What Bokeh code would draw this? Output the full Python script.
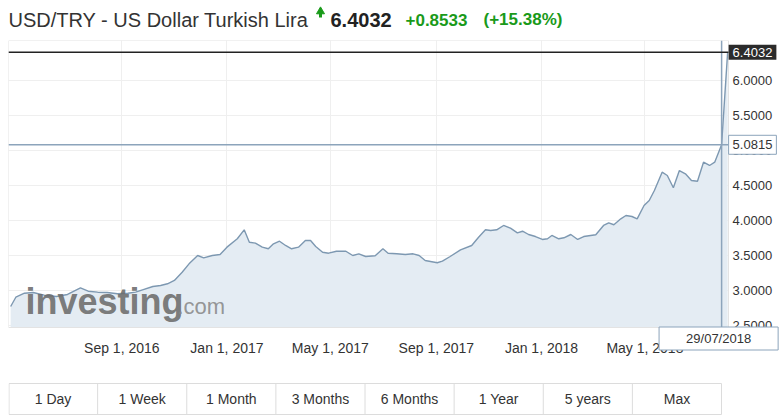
import pandas as pd
from bokeh.plotting import figure
from bokeh.models import Range1d, FixedTicker, Label, ColumnDataSource, NumeralTickFormatter
from bokeh.layouts import column
from bokeh.embed import file_html
from bokeh.resources import INLINE
from bokeh.core.properties import value

FONT = "Liberation Sans"

# ---------------- data ----------------
dates = ["2016-04-25", "2016-05-01", "2016-05-11", "2016-05-21", "2016-06-03", "2016-06-17",
         "2016-06-30", "2016-07-15", "2016-07-24", "2016-08-04", "2016-08-15", "2016-08-27",
         "2016-09-08", "2016-09-17", "2016-09-25", "2016-10-07", "2016-10-16", "2016-10-24",
         "2016-11-01", "2016-11-10", "2016-11-18", "2016-11-28", "2016-12-05", "2016-12-15",
         "2016-12-24", "2017-01-01", "2017-01-13", "2017-01-21", "2017-01-27", "2017-02-03",
         "2017-02-11", "2017-02-18", "2017-02-24", "2017-03-03", "2017-03-10", "2017-03-17",
         "2017-03-25", "2017-04-02", "2017-04-08", "2017-04-14", "2017-04-22", "2017-04-29",
         "2017-05-08", "2017-05-19", "2017-05-27", "2017-06-03", "2017-06-11", "2017-06-22",
         "2017-07-01", "2017-07-07", "2017-07-17", "2017-07-27", "2017-08-05", "2017-08-12",
         "2017-08-19", "2017-09-02", "2017-09-08", "2017-09-17", "2017-09-29", "2017-10-12",
         "2017-10-20", "2017-10-28", "2017-11-03", "2017-11-10", "2017-11-18", "2017-11-26",
         "2017-12-04", "2017-12-10", "2017-12-17", "2017-12-25", "2018-01-02", "2018-01-08",
         "2018-01-13", "2018-01-21", "2018-01-27", "2018-02-04", "2018-02-12", "2018-02-19",
         "2018-02-27", "2018-03-05", "2018-03-14", "2018-03-20", "2018-03-26", "2018-04-03",
         "2018-04-09", "2018-04-16", "2018-04-22", "2018-04-30", "2018-05-06", "2018-05-12",
         "2018-05-21", "2018-05-27", "2018-06-03", "2018-06-10", "2018-06-17", "2018-06-24",
         "2018-07-01", "2018-07-08", "2018-07-15", "2018-07-21", "2018-07-29", "2018-08-05"]
rates = [2.771, 2.904, 2.961, 2.971, 2.933, 2.914, 2.943, 3.039, 2.990, 2.976, 2.971, 2.953,
         2.961, 2.976, 3.010, 3.057, 3.071, 3.096, 3.143, 3.261, 3.381, 3.500, 3.467, 3.500,
         3.514, 3.619, 3.739, 3.867, 3.690, 3.676, 3.619, 3.596, 3.667, 3.704, 3.643, 3.596,
         3.619, 3.714, 3.714, 3.629, 3.547, 3.533, 3.561, 3.561, 3.500, 3.524, 3.486, 3.496,
         3.596, 3.533, 3.524, 3.514, 3.524, 3.500, 3.429, 3.396, 3.419, 3.486, 3.581, 3.643,
         3.761, 3.867, 3.857, 3.867, 3.929, 3.890, 3.824, 3.847, 3.800, 3.771, 3.729, 3.739,
         3.786, 3.739, 3.753, 3.800, 3.729, 3.771, 3.786, 3.796, 3.929, 3.967, 3.939, 4.024,
         4.071, 4.057, 4.024, 4.214, 4.286, 4.429, 4.690, 4.643, 4.467, 4.714, 4.667, 4.571,
         4.561, 4.833, 4.786, 4.833, 5.0815, 6.4032]

x_tick_dates = ["2016-09-01", "2017-01-01", "2017-05-01", "2017-09-01", "2018-01-01", "2018-05-01"]
x_tick_labels = ["Sep 1, 2016", "Jan 1, 2017", "May 1, 2017", "Sep 1, 2017", "Jan 1, 2018", "May 1, 2018"]
y_ticks = [2.5, 3.0, 3.5, 4.0, 4.5, 5.0, 5.5, 6.0]

title_text = "USD/TRY - US Dollar Turkish Lira"
last_price = 6.4032
change_text = "+0.8533"
change_pct_text = "(+15.38%)"
cross_date = "2018-07-29"
cross_date_label = "29/07/2018"
cross_value = 5.0815
range_buttons = ["1 Day", "1 Week", "1 Month", "3 Months", "6 Months", "1 Year", "5 years", "Max"]

# ---------------- layout constants (page pixels, page has no margin) ----------------
PW = 781                     # page width
PL, PR = 8, 728              # plot area left / right (page x)
PT, PB = 40, 327             # plot area top / bottom (page y)
FB = 372                     # bottom of main figure (page y)
X0 = pd.Timestamp("2016-04-22 12:00")   # date at plot-area left edge
X1 = pd.Timestamp("2018-08-06")         # date at plot-area right edge
Y0, Y1 = 2.4714, 6.5714                 # values at plot-area bottom / top
GREEN = "#1a9a1a"
LINE = "#7d98b1"
FILL = "#e4ecf3"
CROSS = "#8ca4bb"
GRID = "#efefef"


def ms(d):
    return pd.Timestamp(d).value / 1e6


def px2x(px):  # page x -> datetime ms
    return ms(X0) + (px - PL) / (PR - PL) * (ms(X1) - ms(X0))


def py2y(py):  # page y -> value
    return Y1 - (py - PT) / (PB - PT) * (Y1 - Y0)


XE = px2x(PW)      # frame right edge (page x 781)
YB = py2y(FB)      # frame bottom edge (page y 372)


def strip(height):
    """A plain figure whose x coordinates are page pixels (frames of a column are aligned)."""
    f = figure(frame_width=PW - PL, frame_height=height, x_range=Range1d(PL, PW),
               y_range=Range1d(height, 0), x_axis_location=None, y_axis_location=None,
               min_border_left=PL, min_border_right=0, min_border_top=0, min_border_bottom=0,
               output_backend="svg", toolbar_location=None)
    f.grid.visible = False
    f.outline_line_color = None
    return f


# ---------------- title strip ----------------
t = strip(PT)
t.text(x=[8], y=[19], text=[title_text], text_font=value(FONT), text_font_size="20px",
       text_color="#333333", text_baseline="middle")
t.segment(x0=[320], y0=[12], x1=[320], y1=[17], line_color=GREEN, line_width=3)
t.scatter(x=[320], y=[11], marker="triangle", size=8, color=GREEN)
t.text(x=[330], y=[19], text=[f"{last_price:.4f}"], text_font=value(FONT), text_font_size="20px",
       text_font_style="bold", text_color="#222222", text_baseline="middle")
t.text(x=[405], y=[19], text=[change_text], text_font=value(FONT), text_font_size="17px",
       text_font_style="bold", text_color=GREEN, text_baseline="middle")
t.text(x=[483], y=[19], text=[change_pct_text], text_font=value(FONT), text_font_size="17px",
       text_font_style="bold", text_color=GREEN, text_baseline="middle")

# ---------------- main chart ----------------
src = ColumnDataSource(dict(x=pd.to_datetime(dates), y=rates))
p = figure(x_axis_type="datetime", y_axis_location="right",
           frame_width=PW - PL, frame_height=FB - PT,
           min_border_left=PL, min_border_top=0, min_border_right=0, min_border_bottom=0,
           x_range=Range1d(ms(X0), XE), y_range=Range1d(YB, Y1),
           output_backend="svg", toolbar_location=None)
p.outline_line_color = None
p.background_fill_color = "white"
p.border_fill_color = "white"

xt = FixedTicker(ticks=[ms(d) for d in x_tick_dates])
p.xaxis.ticker = xt
p.xgrid.ticker = xt
p.xaxis.major_label_overrides = {ms(d): lab for d, lab in zip(x_tick_dates, x_tick_labels)}
p.yaxis.ticker = FixedTicker(ticks=y_ticks)
p.yaxis.formatter = NumeralTickFormatter(format="0.0000")
for ax in (p.xaxis, p.yaxis):
    ax.axis_line_color = None
    ax.major_tick_line_color = None
    ax.minor_tick_line_color = None
    ax.major_tick_out = 0
    ax.major_tick_in = 0
    ax.major_label_text_font = FONT
    ax.major_label_text_color = "#333333"
p.xaxis.major_label_text_font_size = "14px"
p.xaxis.major_label_standoff = -33          # labels sit just under the plot area
p.yaxis.major_label_text_font_size = "13px"
p.yaxis.major_label_standoff = -49          # labels sit right of the plot area
p.grid.grid_line_color = GRID

# white margins outside the plot area (hide the grid there)
p.quad(left=[ms(X0)], right=[XE], bottom=[YB], top=[Y0], fill_color="white", line_color=None)
p.quad(left=[ms(X1)], right=[XE], bottom=[YB], top=[Y1], fill_color="white", line_color=None)

p.varea(x="x", y1=Y0, y2="y", source=src, fill_color=FILL)
p.line(x="x", y="y", source=src, line_color=LINE, line_width=1.4)

# plot-area outline
p.quad(left=[ms(X0)], right=[ms(X1)], bottom=[Y0], top=[Y1], fill_color=None,
       line_color="#e3e3e3", line_width=1)

# crosshair and price lines
p.segment(x0=[ms(cross_date)], y0=[Y0], x1=[ms(cross_date)], y1=[Y1], line_color=CROSS, line_width=1.5)
p.segment(x0=[ms(X0)], y0=[cross_value], x1=[ms(X1)], y1=[cross_value], line_color=CROSS, line_width=1.5)
p.segment(x0=[ms(X0)], y0=[last_price], x1=[ms(X1)], y1=[last_price], line_color="#222222", line_width=1.5)

# watermark
p.add_layout(Label(x=px2x(25), y=py2y(301), text="investing", text_font=FONT,
                   text_font_size="36px", text_font_style="bold", text_color="#6c6c6c",
                   text_alpha=0.9, text_baseline="middle"))
p.add_layout(Label(x=px2x(177), y=py2y(306), text=".com", text_font=FONT,
                   text_font_size="22px", text_color="#8a8a8a", text_alpha=0.9,
                   text_baseline="middle"))

# value boxes on the right axis
p.add_layout(Label(x=px2x(752), y=last_price, text=f"{last_price:.4f}", text_font=FONT,
                   text_font_size="13px", text_color="white", text_align="center",
                   text_baseline="middle", background_fill_color="#2b2b2b",
                   padding=(4, 3)))
p.add_layout(Label(x=px2x(752), y=cross_value, text=f"{cross_value:.4f}", text_font=FONT,
                   text_font_size="13px", text_color="#333333", text_align="center",
                   text_baseline="middle", background_fill_color="white",
                   border_line_color=CROSS, padding=(4, 5)))
# date box
p.add_layout(Label(x=ms(cross_date), y=py2y(338), x_offset=-3, text=cross_date_label,
                   text_font=FONT, text_font_size="13px", text_color="#333333",
                   text_align="center", text_baseline="middle", background_fill_color="white",
                   border_line_color=CROSS, padding=(27, 4)))

# ---------------- range buttons ----------------
BH = 418 - FB
b = strip(BH)
n = len(range_buttons)
bx0, bx1 = 8, 721
bw = (bx1 - bx0) / n
b.quad(left=[bx0 + 0.5], right=[bx1], top=[11], bottom=[42], fill_color=None, line_color="#dcdcdc")
b.segment(x0=[bx0 + bw * i for i in range(1, n)], y0=[11] * (n - 1),
          x1=[bx0 + bw * i for i in range(1, n)], y1=[42] * (n - 1), line_color="#dcdcdc")
b.text(x=[bx0 + bw * (i + 0.5) for i in range(n)], y=[26.5] * n, text=range_buttons,
       text_font=value(FONT), text_font_size="14px", text_color="#333333",
       text_align="center", text_baseline="middle")

layout = column(t, p, b, spacing=0)
open("out.html", "w").write(file_html(layout, INLINE))
